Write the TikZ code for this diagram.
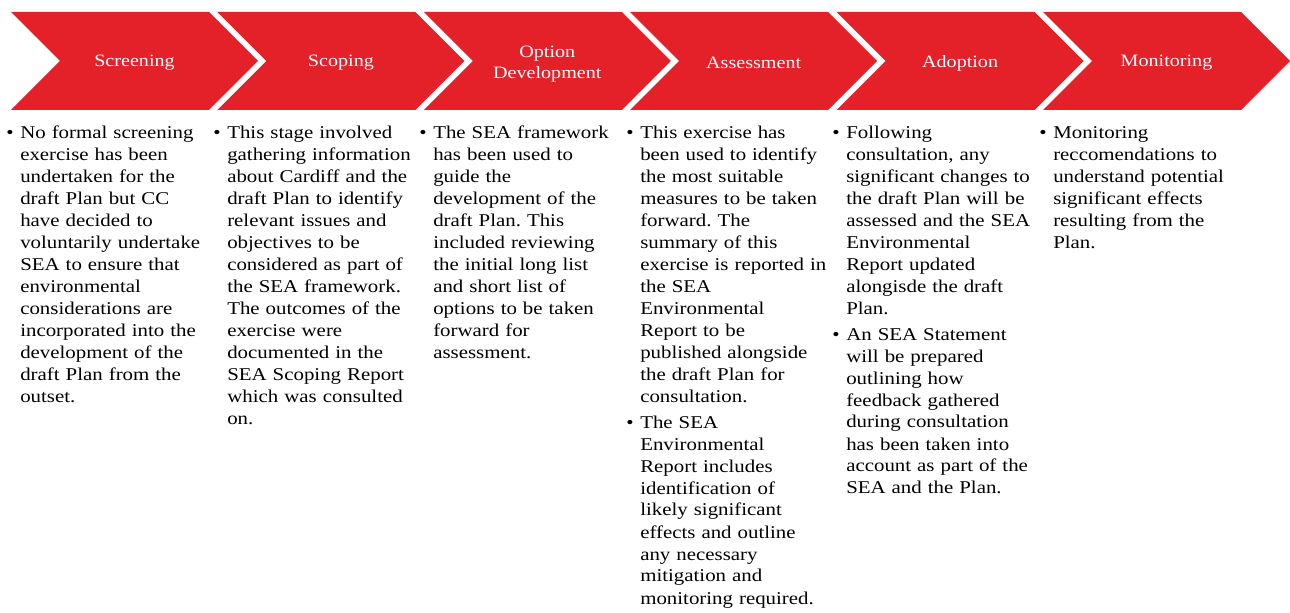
\documentclass[tikz,border=0pt]{standalone}
\usepackage{fontspec}
\setmainfont{Liberation Serif}[FakeStretch=1.16]
\definecolor{stagered}{RGB}{228,32,41}
\frenchspacing
\begin{document}
\begin{tikzpicture}[x=0.75pt,y=-0.75pt,
  stage/.style={fill=stagered},
  stagelabel/.style={text=white,inner sep=0,align=center,
    font=\fontsize{13}{15.75}\selectfont},
  item/.style={anchor=base west,inner sep=0,text width=160pt,align=left,
    font=\fontsize{13.5}{16.5}\selectfont},
  dot/.style={anchor=base,inner sep=0,font=\fontsize{13.5}{16.5}\selectfont}]
\useasboundingbox (0,0) rectangle (1290,613);

% stage chevrons with their titles
\foreach \i/\lbl/\ty in {0/Screening/63,1/Scoping/63,2/{Option\\Development}/64,
                         3/Assessment/63,4/Adoption/63,5/Monitoring/63} {
  \pgfmathsetmacro\L{11+206.4*\i}
  \fill[stage] (\L,12) -- ++(198,0) -- ++(49,49) -- ++(-49,49)
               -- ++(-198,0) -- ++(49,-49) -- cycle;
  \node[stagelabel] (stage\i) at (\L+123.5,\ty) {\lbl};
}

% column 1: Screening
\node[dot]  (b1) at (10,139) {•};
\node[item] (t1) at (20,139) {No formal screening\\exercise has been\\undertaken for the\\draft Plan but CC\\have decided to\\voluntarily undertake\\SEA to ensure that\\environmental\\considerations are\\incorporated into the\\development of the\\draft Plan from the\\outset.};

% column 2: Scoping
\node[dot]  (b2) at (217,139) {•};
\node[item] (t2) at (227,139) {This stage involved\\gathering information\\about Cardiff and the\\draft Plan to identify\\relevant issues and\\objectives to be\\considered as part of\\the SEA framework.\\The outcomes of the\\exercise were\\documented in the\\SEA Scoping Report\\which was consulted\\on.};

% column 3: Option Development
\node[dot]  (b3) at (423,139) {•};
\node[item] (t3) at (433,139) {The SEA framework\\has been used to\\guide the\\development of the\\draft Plan. This\\included reviewing\\the initial long list\\and short list of\\options to be taken\\forward for\\assessment.};

% column 4: Assessment
\node[dot]  (b4) at (630,139) {•};
\node[item] (t4) at (640,139) {This exercise has\\been used to identify\\the most suitable\\measures to be taken\\forward. The\\summary of this\\exercise is reported in\\the SEA\\Environmental\\Report to be\\published alongside\\the draft Plan for\\consultation.};
\node[dot]  (b4b) at (630,428) {•};
\node[item] (t4b) at (640,428) {The SEA\\Environmental\\Report includes\\identification of\\likely significant\\effects and outline\\any necessary\\mitigation and\\monitoring required.};

% column 5: Adoption
\node[dot]  (b5) at (836,139) {•};
\node[item] (t5) at (846,139) {Following\\consultation, any\\significant changes to\\the draft Plan will be\\assessed and the SEA\\Environmental\\Report updated\\alongisde the draft\\Plan.};
\node[dot]  (b5b) at (836,340) {•};
\node[item] (t5b) at (846,340) {An SEA Statement\\will be prepared\\outlining how\\feedback gathered\\during consultation\\has been taken into\\account as part of the\\SEA and the Plan.};

% column 6: Monitoring
\node[dot]  (b6) at (1043,139) {•};
\node[item] (t6) at (1053,139) {Monitoring\\reccomendations to\\understand potential\\significant effects\\resulting from the\\Plan.};
\end{tikzpicture}
\end{document}
